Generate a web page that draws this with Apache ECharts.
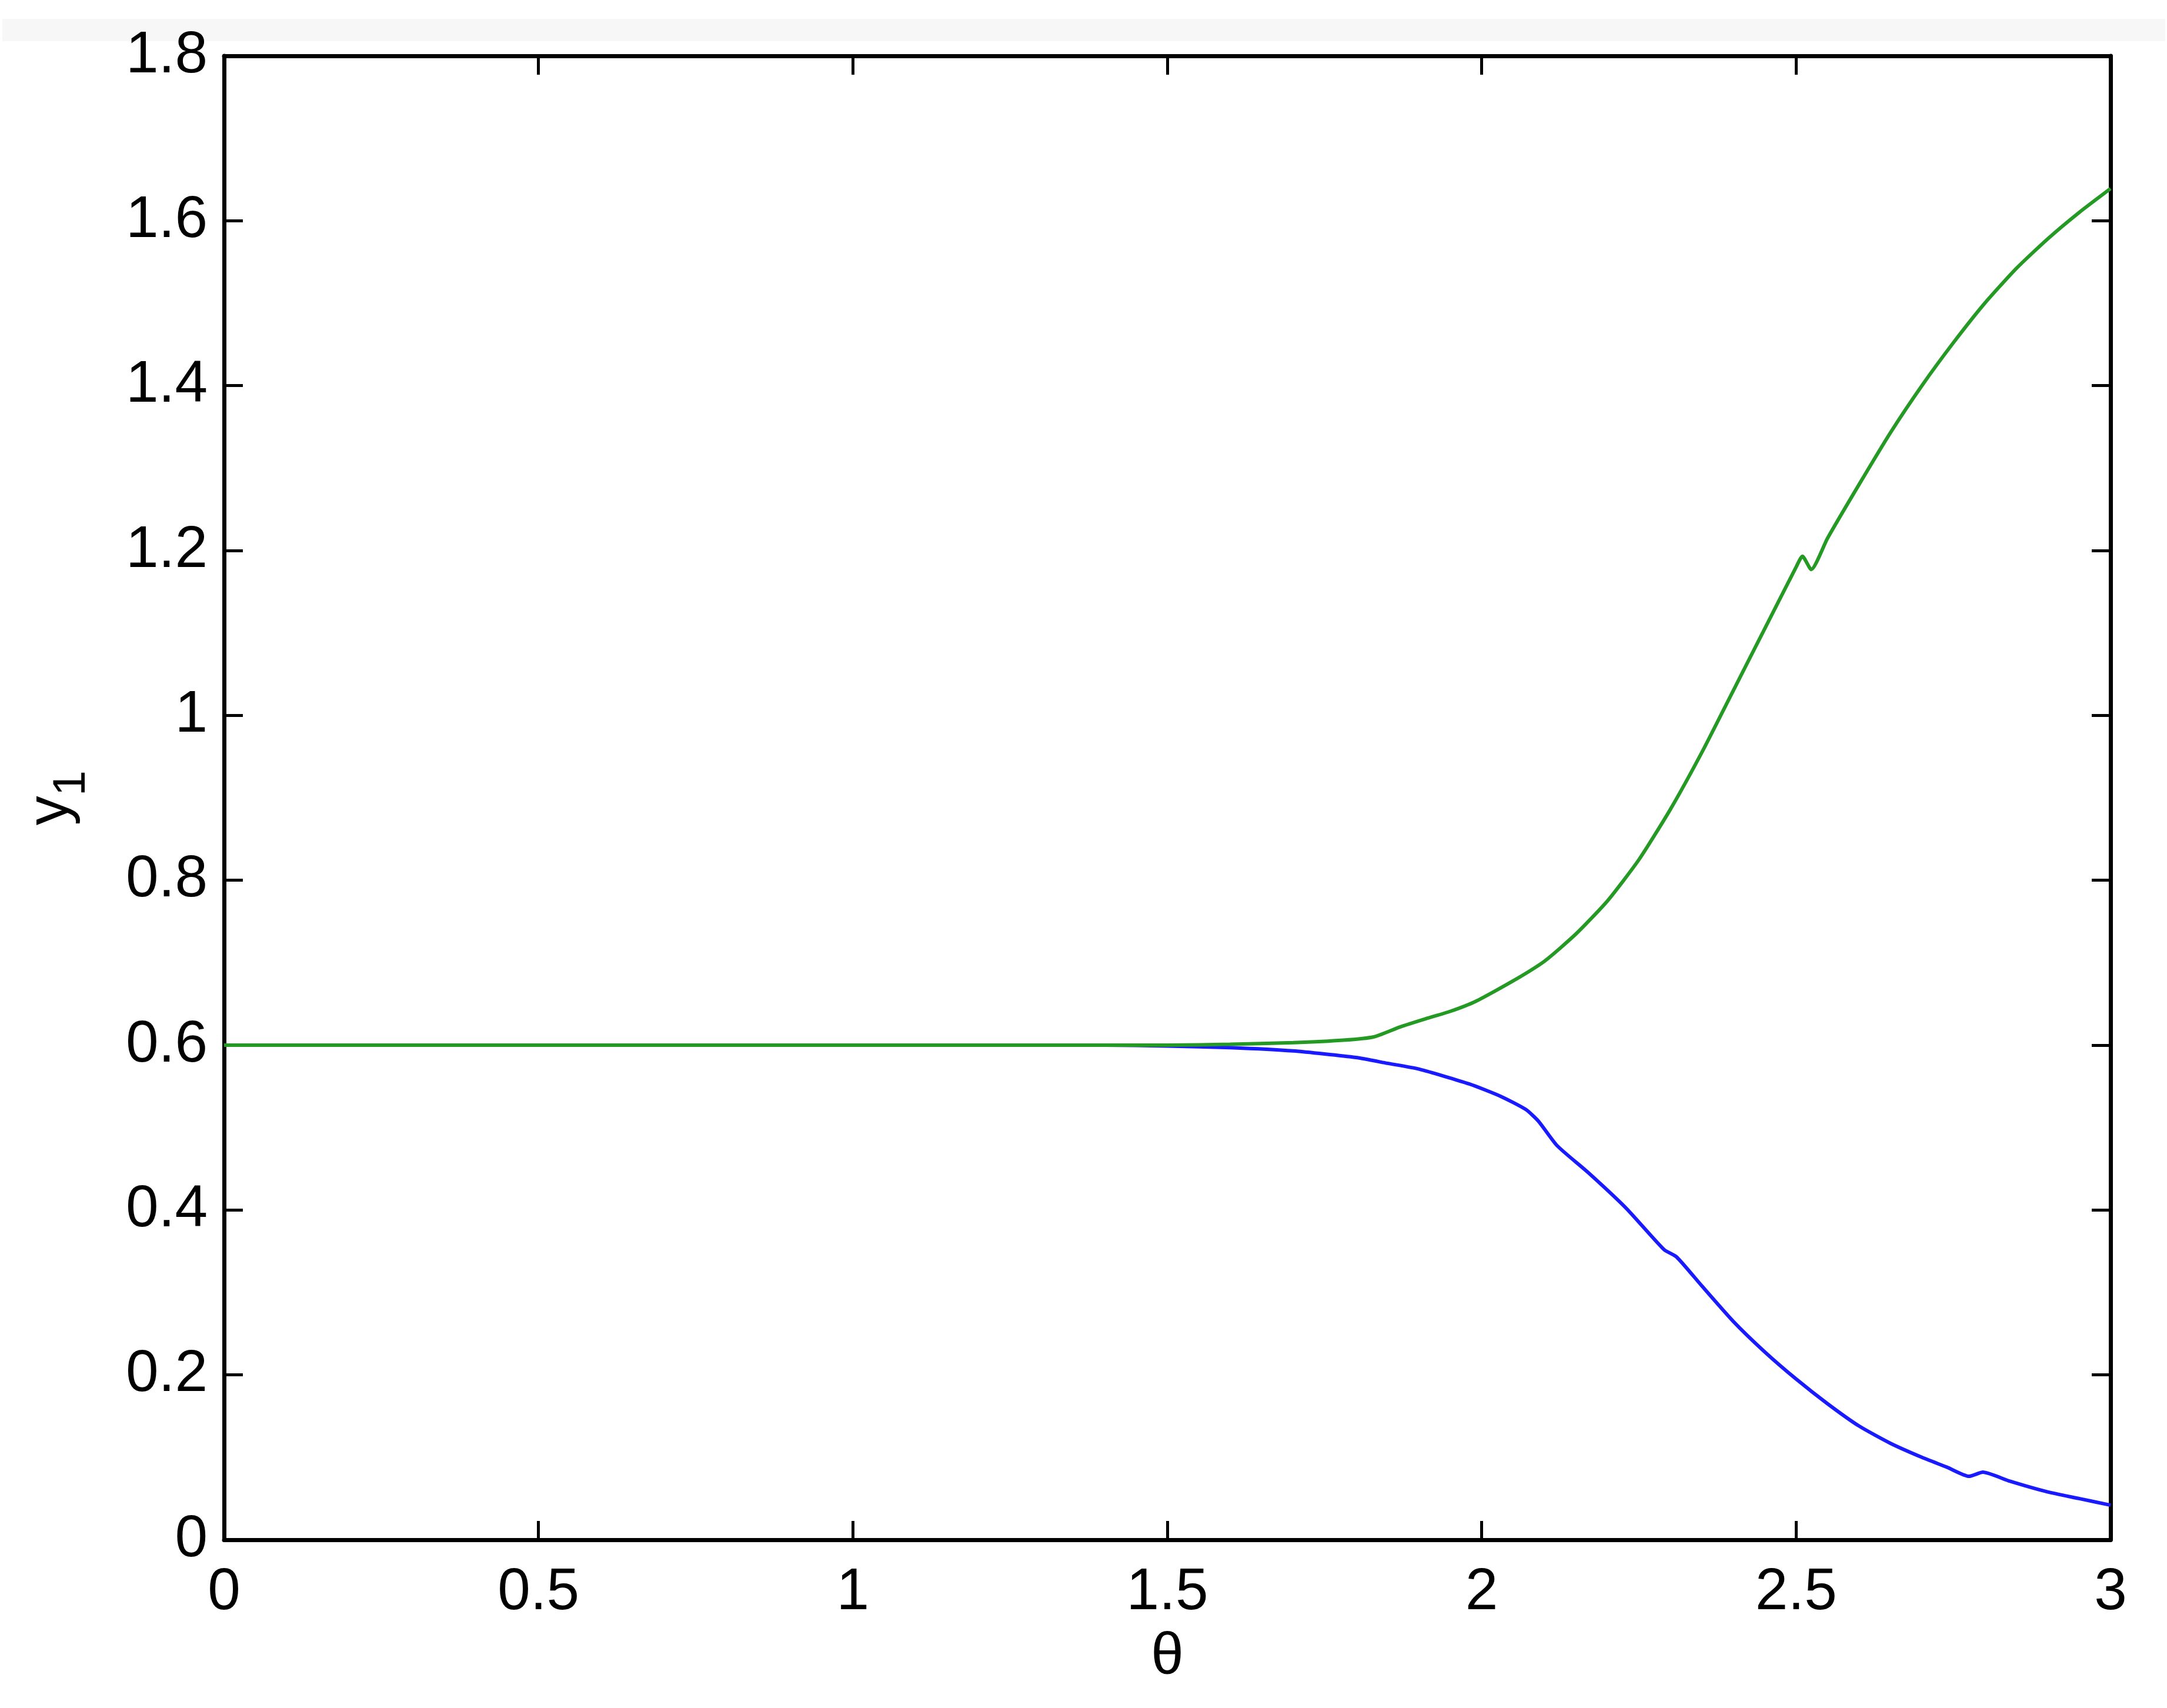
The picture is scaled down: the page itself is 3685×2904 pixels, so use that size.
<!DOCTYPE html>
<html>
<head>
<meta charset="utf-8">
<script src="https://cdn.jsdelivr.net/npm/echarts@6/dist/echarts.min.js"></script>
<style>
html,body{margin:0;padding:0;background:#fff;}
#chart{width:3685px;height:2904px;}
</style>
</head>
<body>
<div id="chart"></div>
<script>
// Data
var blueTheta = [0, 0.5, 1.0, 1.4, 1.5, 1.6, 1.7, 1.8, 1.85, 1.9, 1.98, 2.03, 2.07, 2.09, 2.12, 2.17, 2.23, 2.29, 2.31, 2.35, 2.4, 2.45, 2.5, 2.55, 2.6, 2.65, 2.7, 2.74, 2.775, 2.797, 2.84, 2.9, 2.95, 3.0];
var blueY = [0.6, 0.6, 0.6, 0.6, 0.599, 0.597, 0.593, 0.585, 0.578, 0.571, 0.553, 0.538, 0.522, 0.508, 0.478, 0.445, 0.402, 0.352, 0.343, 0.308, 0.265, 0.228, 0.195, 0.165, 0.138, 0.117, 0.1, 0.088, 0.077, 0.082, 0.071, 0.058, 0.05, 0.042];
var greenTheta = [0, 0.5, 1.0, 1.5, 1.6, 1.7, 1.78, 1.828, 1.87, 1.911, 1.95, 1.99, 2.05, 2.1, 2.15, 2.2, 2.25, 2.3, 2.35, 2.4, 2.45, 2.5, 2.51, 2.524, 2.55, 2.6, 2.65, 2.7, 2.75, 2.8, 2.85, 2.9, 2.95, 3.0];
var greenY = [0.6, 0.6, 0.6, 0.6, 0.601, 0.603, 0.606, 0.61, 0.622, 0.632, 0.641, 0.653, 0.678, 0.702, 0.735, 0.775, 0.825, 0.886, 0.955, 1.03, 1.105, 1.18, 1.193, 1.177, 1.215, 1.28, 1.343, 1.4, 1.452, 1.5, 1.542, 1.578, 1.61, 1.639];
var xTicks = [0, 0.5, 1, 1.5, 2, 2.5, 3];
var yTicks = [0, 0.2, 0.4, 0.6, 0.8, 1, 1.2, 1.4, 1.6, 1.8];
var xName = 'θ';
var yName = 'y';
var ySub = '1';

function pairs(xs, ys) { return xs.map(function (x, i) { return [x, ys[i]]; }); }

var chart = echarts.init(document.getElementById('chart'), null, { renderer: 'canvas' });
var FONT = 'Liberation Sans';
var axisLineStyle = { color: '#000', width: 7 };
var tickStyle = { color: '#000', width: 5 };

chart.setOption({
  backgroundColor: '#ffffff',
  animation: false,
  graphic: [{
    type: 'rect', left: 4, top: 32, z: -10,
    shape: { width: 3678, height: 38 },
    style: { fill: '#f7f7f7' }
  }],
  grid: { left: 381, right: 96, top: 95, bottom: 286, containLabel: false },
  xAxis: [{
    type: 'value', min: xTicks[0], max: xTicks[xTicks.length - 1], interval: 0.5,
    position: 'bottom',
    name: xName, nameLocation: 'middle', nameGap: 150,
    nameTextStyle: { fontFamily: FONT, fontSize: 100, color: '#000' },
    axisLine: { onZero: false, lineStyle: axisLineStyle },
    axisTick: { inside: true, length: 32, lineStyle: tickStyle },
    axisLabel: { fontFamily: FONT, fontSize: 100, color: '#000', margin: 40 },
    splitLine: { show: false }
  }, {
    type: 'value', min: xTicks[0], max: xTicks[xTicks.length - 1], interval: 0.5,
    position: 'top',
    axisLine: { onZero: false, lineStyle: axisLineStyle },
    axisTick: { inside: true, length: 32, lineStyle: tickStyle },
    axisLabel: { show: false },
    splitLine: { show: false }
  }],
  yAxis: [{
    type: 'value', min: yTicks[0], max: yTicks[yTicks.length - 1], interval: 0.2,
    position: 'left',
    name: yName + '{s|' + ySub + '}', nameLocation: 'middle', nameGap: 220,
    nameTextStyle: {
      fontFamily: FONT, fontSize: 100, color: '#000',
      rich: {
        s: { fontFamily: FONT, fontSize: 78, color: '#000', padding: [70, 0, 0, 0], verticalAlign: 'bottom' }
      }
    },
    axisLine: { onZero: false, lineStyle: axisLineStyle },
    axisTick: { inside: true, length: 32, lineStyle: tickStyle },
    axisLabel: { fontFamily: FONT, fontSize: 100, color: '#000', margin: 28 },
    splitLine: { show: false }
  }, {
    type: 'value', min: yTicks[0], max: yTicks[yTicks.length - 1], interval: 0.2,
    position: 'right',
    axisLine: { onZero: false, lineStyle: axisLineStyle },
    axisTick: { inside: true, length: 32, lineStyle: tickStyle },
    axisLabel: { show: false },
    splitLine: { show: false }
  }],
  series: [{
    type: 'line', name: 'blue', xAxisIndex: 0, yAxisIndex: 0,
    data: pairs(blueTheta, blueY),
    showSymbol: false, smooth: 0.2,
    lineStyle: { color: '#1a1aff', width: 6 }, z: 3
  }, {
    type: 'line', name: 'green', xAxisIndex: 0, yAxisIndex: 0,
    data: pairs(greenTheta, greenY),
    showSymbol: false, smooth: 0.2,
    lineStyle: { color: '#249a24', width: 6 }, z: 4
  }]
});
</script>
</body>
</html>
